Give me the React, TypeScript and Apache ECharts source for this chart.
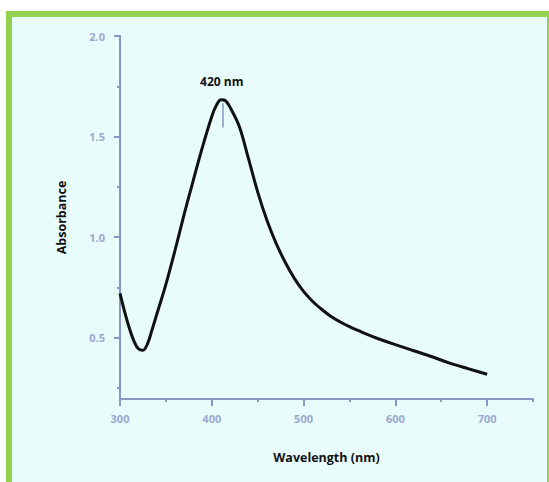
import React, { useEffect, useRef } from "react";
import * as echarts from "echarts";

const wavelengths = [300, 305, 310, 315, 320, 325, 330, 335, 340, 350, 360, 370, 380, 390, 400, 405, 410, 415, 420, 430, 440, 450, 460, 470, 480, 490, 500, 510, 520, 530, 540, 550, 560, 570, 580, 600, 620, 640, 660, 680, 700];
const absorbance = [0.72, 0.63, 0.55, 0.485, 0.445, 0.437, 0.47, 0.54, 0.615, 0.765, 0.935, 1.115, 1.285, 1.45, 1.6, 1.655, 1.683, 1.678, 1.645, 1.55, 1.39, 1.225, 1.085, 0.97, 0.875, 0.795, 0.73, 0.68, 0.64, 0.605, 0.578, 0.555, 0.535, 0.515, 0.497, 0.465, 0.435, 0.405, 0.372, 0.345, 0.318];

const xLabelValues = [300, 400, 500, 600, 700];
const xMinorTicks = [350, 450, 550, 650, 750];
const yLabelValues = [0.5, 1.0, 1.5, 2.0];
const yMinorTicks = [0.25, 0.75, 1.25, 1.75];

const peakWavelength = 412;
const peakAbsorbance = 1.685;
const peakLabel = "420 nm";

const AXIS = "#8696c8";
const LABEL = "#9aa8d0";
const FONT = "'Open Sans', 'Noto Sans', sans-serif";

export default function App() {
  const ref = useRef<HTMLDivElement>(null);
  useEffect(() => {
    document.body.style.margin = "0";
    const chart = echarts.init(ref.current!, null, { renderer: "svg" });
    const data = wavelengths.map((w, i) => [w, absorbance[i]]);
    const xMin = 300, xMax = 750, yMin = 0.195, yMax = 2.0;
    chart.setOption({
      animation: false,
      backgroundColor: "transparent",
      grid: { left: 120, right: 16, top: 36, bottom: 83 },
      xAxis: [
        {
          type: "value",
          min: xMin,
          max: xMax,
          name: "Wavelength (nm)",
          nameLocation: "middle",
          nameGap: 52,
          nameTextStyle: { color: "#111", fontSize: 12.5, fontWeight: "bold", fontFamily: FONT },
          axisLine: { show: true, lineStyle: { color: AXIS, width: 2 } },
          axisTick: { show: true, length: 7, lineStyle: { color: AXIS, width: 2 }, customValues: xLabelValues },
          axisLabel: { show: true, customValues: xLabelValues, color: LABEL, fontSize: 11, fontWeight: "bold", fontFamily: FONT, margin: 14 },
          splitLine: { show: false },
        },
        {
          type: "value",
          min: xMin,
          max: xMax,
          position: "bottom",
          axisLine: { show: false },
          axisTick: { show: true, length: 3, lineStyle: { color: AXIS, width: 2 }, customValues: xMinorTicks },
          axisLabel: { show: false },
          splitLine: { show: false },
        },
      ],
      yAxis: [
        {
          type: "value",
          min: yMin,
          max: yMax,
          name: "Absorbance",
          nameLocation: "middle",
          nameGap: 52,
          nameRotate: 90,
          nameTextStyle: { color: "#111", fontSize: 12.5, fontWeight: "bold", fontFamily: FONT },
          axisLine: { show: true, lineStyle: { color: AXIS, width: 2 } },
          axisTick: { show: true, length: 6, lineStyle: { color: AXIS, width: 2 }, customValues: yLabelValues },
          axisLabel: {
            show: true,
            customValues: yLabelValues,
            formatter: (v: number) => v.toFixed(1),
            color: LABEL,
            fontSize: 11,
            fontWeight: "bold",
            fontFamily: FONT,
            margin: 15,
          },
          splitLine: { show: false },
        },
        {
          type: "value",
          min: yMin,
          max: yMax,
          position: "left",
          axisLine: { show: false },
          axisTick: { show: true, length: 3, lineStyle: { color: AXIS, width: 2 }, customValues: yMinorTicks },
          axisLabel: { show: false },
          splitLine: { show: false },
        },
      ],
      series: [
        {
          type: "line",
          data,
          smooth: 0.35,
          showSymbol: false,
          symbol: "none",
          lineStyle: { color: "#111", width: 3 },
          markPoint: {
            symbol: "circle",
            symbolSize: 0,
            silent: true,
            data: [{ coord: [peakWavelength, peakAbsorbance], value: peakLabel }],
            label: {
              show: true,
              formatter: peakLabel,
              position: "inside",
              offset: [-1, -18],
              color: "#111",
              fontSize: 12,
              fontWeight: "bold",
              fontFamily: FONT,
            },
          },
          markLine: {
            silent: true,
            symbol: ["none", "none"],
            label: { show: false },
            lineStyle: { color: "#9db0d8", width: 2, type: "solid" },
            data: [[{ coord: [peakWavelength, 1.665] }, { coord: [peakWavelength, 1.545] }]],
          },
        },
      ],
    });
    return () => chart.dispose();
  }, []);
  return (
    <div style={{ position: "relative", width: 549, height: 482, background: "#fff", overflow: "hidden" }}>
      <div
        style={{
          position: "absolute",
          left: 6,
          top: 11,
          width: 543,
          height: 471,
          boxSizing: "border-box",
          background: "#e8fcfc",
          borderLeft: "6px solid #92d250",
          borderTop: "6px solid #92d250",
          borderRight: "2px solid #92d250",
        }}
      />
      <div ref={ref} style={{ position: "absolute", left: 0, top: 0, width: 549, height: 482 }} />
    </div>
  );
}
